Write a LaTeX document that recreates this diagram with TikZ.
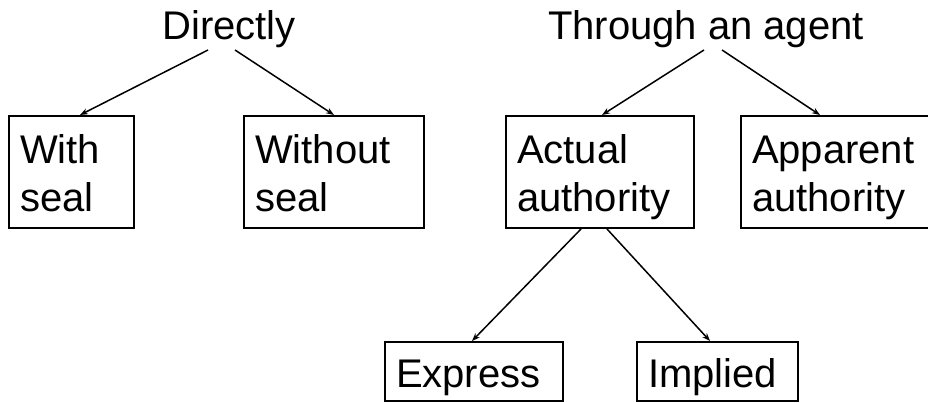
\documentclass[tikz,border=0pt]{standalone}
\usepackage{fontspec}
\setmainfont{Liberation Sans}
\usetikzlibrary{arrows.meta}
\begin{document}
\begin{tikzpicture}[x=1pt,y=1pt,
  every node/.style={font=\fontsize{40}{48}\selectfont},
  toplabel/.style={anchor=base,inner xsep=0pt,inner ysep=1.5pt},
  twobox/.style={draw,line width=2pt,align=left,inner xsep=11pt,inner ysep=0pt,
     text height=40pt,text depth=56pt,minimum height=112pt},
  onebox/.style={draw,line width=2pt,align=left,inner xsep=11pt,inner ysep=0pt,
     text height=31pt,text depth=0pt,minimum height=59pt},
  conn/.style={line width=1.5pt,-{Stealth[length=8pt,width=6pt]}}
]
\useasboundingbox (0,0) rectangle (928,-403);
\node[toplabel] (dir) at (229,-40) {Directly};
\node[toplabel] (thr) at (706,-40) {Through an agent};
\node[twobox,text width=103pt] (ws) at (71.5,-172) {With\\seal};
\node[twobox,text width=158pt] (wo) at (334,-172) {Without\\seal};
\node[twobox,text width=166pt] (act) at (600,-172) {Actual\\authority};
\node[twobox,text width=170pt] (app) at (837,-172) {Apparent\\authority};
\node[onebox,text width=156pt] (exp) at (474,-371.5) {Express};
\node[onebox,text width=139pt] (imp) at (717.5,-371.5) {Implied};
\draw[conn] ([xshift=-21pt]dir.south) -- ([xshift=8.5pt]ws.north);
\draw[conn] ([xshift=6pt]dir.south) -- (wo.north);
\draw[conn] ([xshift=-2pt]thr.south) -- ([xshift=2pt]act.north);
\draw[conn] ([xshift=16pt]thr.south) -- ([xshift=-17pt]app.north);
\draw[conn] ([xshift=-19pt]act.south) -- ([xshift=-2pt]exp.north);
\draw[conn] ([xshift=7pt]act.south) -- ([xshift=-7.5pt]imp.north);
\end{tikzpicture}
\end{document}
